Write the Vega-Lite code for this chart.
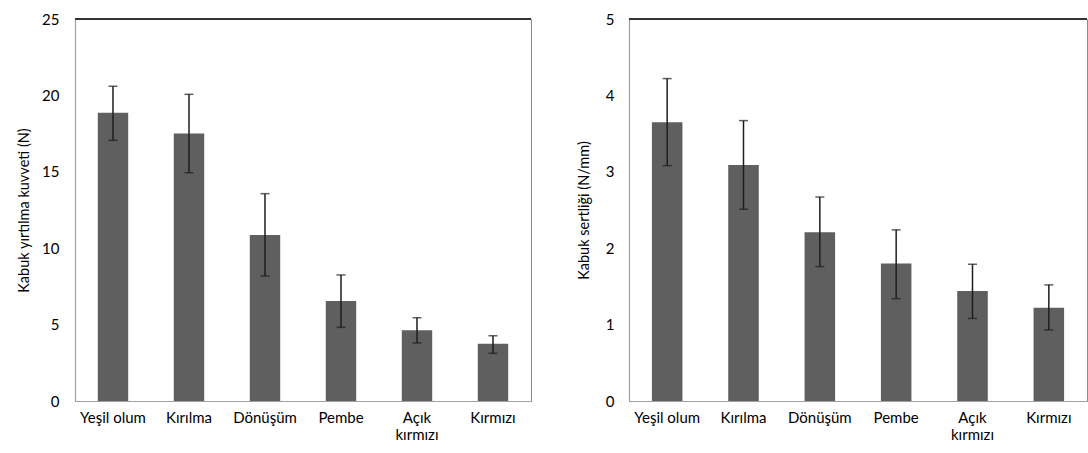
{
  "$schema": "https://vega.github.io/schema/vega-lite/v6.json",
  "padding": {"left": 16, "top": 11, "right": 0, "bottom": 0},
  "background": "white",
  "datasets": {
    "kuvvet": [
      {"evre": "Yeşil olum", "ort": 18.87, "alt": 17.06, "ust": 20.6},
      {"evre": "Kırılma", "ort": 17.5, "alt": 14.94, "ust": 20.07},
      {"evre": "Dönüşüm", "ort": 10.86, "alt": 8.18, "ust": 13.57},
      {"evre": "Pembe", "ort": 6.54, "alt": 4.82, "ust": 8.25},
      {"evre": "Açık kırmızı", "ort": 4.63, "alt": 3.8, "ust": 5.45},
      {"evre": "Kırmızı", "ort": 3.75, "alt": 3.12, "ust": 4.27}
    ],
    "sertlik": [
      {"evre": "Yeşil olum", "ort": 3.65, "alt": 3.08, "ust": 4.22},
      {"evre": "Kırılma", "ort": 3.09, "alt": 2.51, "ust": 3.67},
      {"evre": "Dönüşüm", "ort": 2.21, "alt": 1.76, "ust": 2.67},
      {"evre": "Pembe", "ort": 1.8, "alt": 1.34, "ust": 2.24},
      {"evre": "Açık kırmızı", "ort": 1.44, "alt": 1.08, "ust": 1.79},
      {"evre": "Kırmızı", "ort": 1.22, "alt": 0.93, "ust": 1.52}
    ]
  },
  "spacing": 42,
  "hconcat": [
    {
      "width": 456,
      "height": 382,
      "data": {"name": "kuvvet"},
      "layer": [
        {
          "mark": {"type": "bar", "color": "#5f5f5f", "width": {"band": 0.4}},
          "encoding": {
            "x": {"field": "evre", "type": "nominal", "sort": null,
                  "scale": {"paddingInner": 0, "paddingOuter": 0},
                  "axis": {"title": null, "labelAngle": 0, "ticks": false, "domainColor": "#a0a0a0",
                           "labelPadding": 9, "labelFont": "Lato", "labelFontSize": 15, "labelColor": "#000",
                           "labelExpr": "datum.value == 'Açık kırmızı' ? ['Açık', 'kırmızı'] : datum.value"}},
            "y": {"field": "ort", "type": "quantitative", "title": "Kabuk yırtılma kuvveti (N)",
                  "scale": {"domain": [0, 25], "nice": false},
                  "axis": {"values": [0, 5, 10, 15, 20, 25], "format": "d",
                           "grid": false, "ticks": false, "domainColor": "#a0a0a0",
                           "labelPadding": 16, "labelFont": "Lato", "labelFontSize": 15, "labelColor": "#000",
                           "titleFont": "Lato", "titleFontSize": 14.5, "titleFontWeight": "normal",
                           "titleColor": "#000", "titlePadding": 10}}
          }
        },
        {
          "mark": {"type": "errorbar", "color": "#1e1e1e", "thickness": 1.5, "ticks": {"size": 9}},
          "encoding": {
            "x": {"field": "evre", "type": "nominal", "sort": null},
            "y": {"field": "alt", "type": "quantitative", "title": "Kabuk yırtılma kuvveti (N)"},
            "y2": {"field": "ust"}
          }
        },
        {
          "mark": {"type": "rule", "color": "#333333", "strokeWidth": 1.2},
          "encoding": {"y": {"datum": 25}}
        }
      ]
    },
    {
      "width": 458,
      "height": 382,
      "data": {"name": "sertlik"},
      "layer": [
        {
          "mark": {"type": "bar", "color": "#5f5f5f", "width": {"band": 0.4}},
          "encoding": {
            "x": {"field": "evre", "type": "nominal", "sort": null,
                  "scale": {"paddingInner": 0, "paddingOuter": 0},
                  "axis": {"title": null, "labelAngle": 0, "ticks": false, "domainColor": "#a0a0a0",
                           "labelPadding": 9, "labelFont": "Lato", "labelFontSize": 15, "labelColor": "#000",
                           "labelExpr": "datum.value == 'Açık kırmızı' ? ['Açık', 'kırmızı'] : datum.value"}},
            "y": {"field": "ort", "type": "quantitative", "title": "Kabuk sertliği (N/mm)",
                  "scale": {"domain": [0, 5], "nice": false},
                  "axis": {"values": [0, 1, 2, 3, 4, 5], "format": "d",
                           "grid": false, "ticks": false, "domainColor": "#a0a0a0",
                           "labelPadding": 15, "labelFont": "Lato", "labelFontSize": 15, "labelColor": "#000",
                           "titleFont": "Lato", "titleFontSize": 14.5, "titleFontWeight": "normal",
                           "titleColor": "#000", "titlePadding": 14}}
          }
        },
        {
          "mark": {"type": "errorbar", "color": "#1e1e1e", "thickness": 1.5, "ticks": {"size": 9}},
          "encoding": {
            "x": {"field": "evre", "type": "nominal", "sort": null},
            "y": {"field": "alt", "type": "quantitative", "title": "Kabuk sertliği (N/mm)"},
            "y2": {"field": "ust"}
          }
        },
        {
          "mark": {"type": "rule", "color": "#333333", "strokeWidth": 1.2},
          "encoding": {"y": {"datum": 5}}
        }
      ]
    }
  ],
  "config": {
    "view": {"stroke": "#8c8c8c"},
    "axis": {"domainWidth": 1.2}
  }
}
